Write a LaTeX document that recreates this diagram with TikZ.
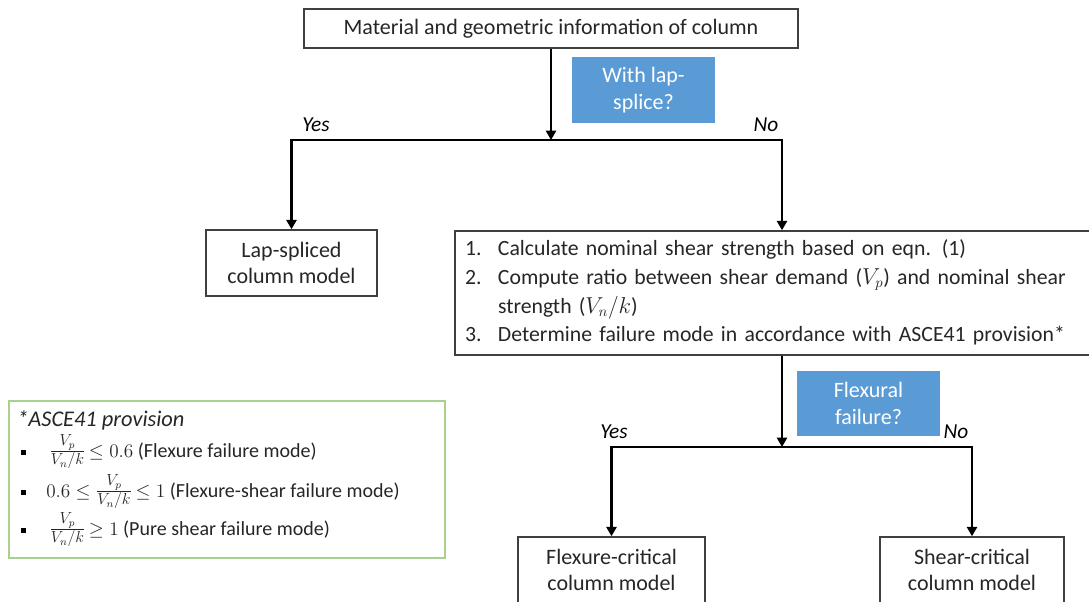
\documentclass[tikz,border=0pt]{standalone}
\usepackage{fontspec}
\setmainfont{Carlito}
\usetikzlibrary{arrows.meta,calc}
\definecolor{qblue}{HTML}{5B9BD5}
\definecolor{gbord}{HTML}{A9D18E}
\definecolor{txt}{HTML}{262626}
\definecolor{bord}{HTML}{404040}
\newcommand{\vfr}{{\fontsize{17}{20}\selectfont$\frac{V_p}{V_n/k}$}}
\begin{document}
\begin{tikzpicture}[x=0.75pt,y=-0.75pt,
  box/.style={draw=bord, line width=1.1pt, fill=white, text=txt, align=center, inner sep=0pt, font=\fontsize{16.5}{20}\selectfont},
  qbox/.style={fill=qblue, text=white, align=center, inner sep=0pt, font=\fontsize{16.5}{20}\selectfont},
  conn/.style={line width=2.1pt, draw=black},
  arr/.style={conn, -{Triangle[length=7pt,width=7.5pt]}},
  lbl/.style={font=\fontsize{16}{18}\selectfont\itshape, inner sep=0pt, text=black},
  gtext/.style={font=\fontsize{15}{18}\selectfont, inner sep=0pt, anchor=west, text=txt},
  bul/.style={fill=black, inner sep=0pt, minimum size=3.75pt},
]
\useasboundingbox (0,0) rectangle (1089,601);

% boxes
\node[box, minimum width={494*0.75pt}, minimum height={39*0.75pt}] (top) at (551,28.5) {Material and geometric information of column};
\node[qbox, minimum width={143*0.75pt}, minimum height={66*0.75pt}] (q1) at (643.5,90) {With lap-\\splice?};
\node[box, minimum width={171*0.75pt}, minimum height={66*0.75pt}] (lap) at (291.5,263) {Lap-spliced\\column model};
\node[box, minimum width={640*0.75pt}, minimum height={124*0.75pt}, text width={620*0.75pt}, align=left, inner xsep=7.5pt, font=\fontsize{16.3}{21.5}\selectfont] (big) at (775,293) {%
\begin{tabular}{@{}p{24.75pt}@{}l@{}}
1. & Calculate nominal shear strength based on eqn. (1)\\
2. & Compute ratio between shear demand ($V_p$) and nominal shear\\
   & strength ($V_n/k$)\\
3. & Determine failure mode in accordance with ASCE41 provision*
\end{tabular}};
\node[qbox, minimum width={143*0.75pt}, minimum height={65*0.75pt}] (q2) at (868.5,403.5) {Flexural\\failure?};
\node[box, minimum width={187*0.75pt}, minimum height={66*0.75pt}] (flex) at (611.5,570) {Flexure-critical\\column model};
\node[box, minimum width={184*0.75pt}, minimum height={66*0.75pt}] (shear) at (972,570) {Shear-critical\\column model};

% junctions
\coordinate (j1) at (551,140);
\coordinate (bx) at (782,0);
\coordinate (j2) at (782,447);

% connectors
\draw[arr] (top.south) -- (j1);
\draw[arr] (j1) -| (lap.north);
\draw[arr] (j1) -| (bx |- big.north);
\draw[arr] (bx |- big.south) -- (j2);
\draw[arr] (j2) -| (flex.north);
\draw[arr] (j2) -| (shear.north);

% labels
\node[lbl] (yes1) at (316,125) {Yes};
\node[lbl] (no1) at (766,125) {No};
\node[lbl] (yes2) at (614,432) {Yes};
\node[lbl] (no2) at (956,432) {No};

% provision box
\node[draw=gbord, line width=1.1pt, minimum width={436*0.75pt}, minimum height={157*0.75pt}, inner sep=0pt] (prov) at (227,479.5) {};
\node[gtext, font=\fontsize{16.8}{19}\selectfont\itshape] (ptitle) at (17,420) {*ASCE41 provision};
\node[bul] (b1) at (23.5,452) {};
\node[bul] (b2) at (23.5,492) {};
\node[bul] (b3) at (23.5,530) {};
\node[gtext] (g1) at (49,452) {\vfr\,$\leq 0.6$ (Flexure failure mode)};
\node[gtext] (g2) at (46,492) {$0.6 \leq{}$\vfr\,$\leq 1$ (Flexure-shear failure mode)};
\node[gtext] (g3) at (49,530) {\vfr\,$\geq 1$ (Pure shear failure mode)};
\end{tikzpicture}
\end{document}
